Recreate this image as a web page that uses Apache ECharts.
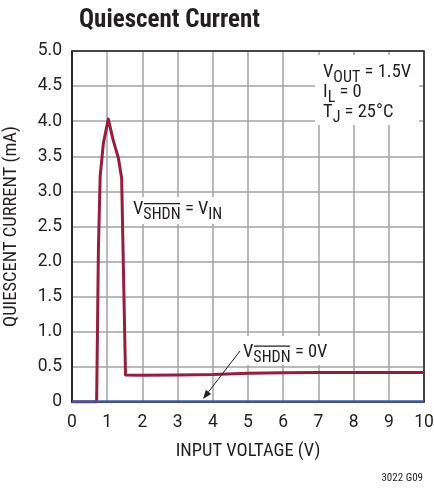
<!DOCTYPE html>
<html><head><meta charset="utf-8">
<script src="https://cdn.jsdelivr.net/npm/echarts@6/dist/echarts.min.js"></script>
<style>html,body{margin:0;padding:0;background:#fff}#c{width:434px;height:489px}</style>
</head><body><div id="c"></div>
<script>
// ---- data ----
const redX = [0, 0.70, 0.75, 0.80, 0.89, 1.03, 1.17, 1.32, 1.41, 1.52, 2, 3, 4, 5, 6, 7, 8, 9, 10];
const redY = [0, 0, 2.17, 3.21, 3.68, 4.03, 3.73, 3.47, 3.19, 0.385, 0.38, 0.385, 0.39, 0.41, 0.415, 0.42, 0.42, 0.42, 0.42];
const blueX = [0, 10];
const blueY = [0.008, 0.008];
const xTicks = [0,1,2,3,4,5,6,7,8,9,10];
const yTicks = [0,0.5,1.0,1.5,2.0,2.5,3.0,3.5,4.0,4.5,5.0];

const FF = '"Roboto Condensed","Liberation Sans Narrow",Roboto,sans-serif';
const FT = 'Roboto,"Liberation Sans",sans-serif';
const RED = '#9c1a3c', BLUE = '#3d5aa6', GRID = '#a3a3a3', INK = '#231f20';

const cv = document.createElement('canvas').getContext('2d');
function tw(s, size){ cv.font = size + 'px ' + FF; return cv.measureText(s).width; }

const MS = 18.5, SS = 16, SUBOFF = 5.5;

// build a label with subscripts: parts = [[text, isSub, overline]]
function label(x, cy, parts){
  const out = [];
  let cx = x;
  parts.forEach(([t, sub, ov]) => {
    const size = sub ? SS : MS;
    const y = cy + 1 + (sub ? SUBOFF : 0);
    out.push({type:'text', z:101, x:cx, y:y, style:{text:t, fontFamily:FF, fontSize:size, fill:INK, verticalAlign:'middle', align:'left'}});
    const w = tw(t, size);
    if (ov) out.push({type:'line', z:101, shape:{x1:cx+0.5, y1:cy-4.8, x2:cx+w-0.5, y2:cy-4.8}, style:{stroke:INK, lineWidth:1.2}});
    cx += w;
  });
  return out;
}

// arrow
const ax1 = 240, ay1 = 351, ax2 = 203, ay2 = 399;
const dx = ax2-ax1, dy = ay2-ay1, L = Math.hypot(dx,dy), ux = dx/L, uy = dy/L;
const ah = 9, aw = 3.3;
const bx = ax2 - ux*ah, by = ay2 - uy*ah;

const chart = echarts.init(document.getElementById('c'), null, {renderer:'canvas'});
chart.setOption({
  animation:false,
  backgroundColor:'#fff',
  title:{text:'Quiescent Current', left:74, top:3,
    textStyle:{fontFamily:FF, fontSize:25, fontWeight:'bold', color:INK}},
  grid:{left:72, right:10, top:51, bottom:87, containLabel:false, outerBoundsMode:'none',
    show:true, borderColor:INK, borderWidth:1.5, z:3},
  xAxis:{type:'value', min:0, max:10, interval:1,
    name:'INPUT VOLTAGE (V)', nameLocation:'middle', nameGap:40,
    nameTextStyle:{fontFamily:FF, fontSize:18.5, color:INK},
    axisLine:{show:true, lineStyle:{color:INK, width:1.5}},
    axisTick:{show:false},
    axisLabel:{fontFamily:FT, fontSize:17.5, color:INK, margin:12},
    splitLine:{show:true, lineStyle:{color:GRID, width:1.5}}},
  yAxis:{type:'value', min:0, max:5, interval:0.5,
    name:'QUIESCENT CURRENT (mA)', nameLocation:'middle', nameGap:51, nameRotate:90,
    nameTextStyle:{fontFamily:FF, fontSize:18.5, color:INK},
    axisLine:{show:true, lineStyle:{color:INK, width:1.5}},
    axisTick:{show:false},
    axisLabel:{fontFamily:FT, fontSize:17.5, color:INK, margin:10,
      formatter:v => v===0 ? '0' : v.toFixed(1)},
    splitLine:{show:true, lineStyle:{color:GRID, width:1.5}}},
  series:[
    {type:'line', data:redX.map((x,i)=>[x,redY[i]]), symbol:'none', z:5,
      lineStyle:{color:RED, width:3, join:'round'}},
    {type:'line', data:blueX.map((x,i)=>[x,blueY[i]]), symbol:'none', z:6,
      lineStyle:{color:BLUE, width:2.5}}
  ],
  graphic:[
    {type:'rect', z:100, shape:{x:315, y:55, width:104, height:70}, style:{fill:'#fff'}},
    ...label(323, 71.5, [['V'],['OUT',true],[' = 1.5V']]),
    ...label(323, 91.5, [['I'],['L',true],[' = 0']]),
    ...label(323, 111.5, [['T'],['J',true],[' = 25°C']]),
    {type:'rect', z:100, shape:{x:129, y:197, width:97, height:27}, style:{fill:'#fff'}},
    ...label(133, 208.5, [['V'],['SHDN',true,true],[' = V'],['IN',true]]),
    {type:'rect', z:100, shape:{x:236, y:336, width:96, height:29}, style:{fill:'#fff'}},
    ...label(243, 351, [['V'],['SHDN',true,true],[' = 0V']]),
    {type:'line', z:101, shape:{x1:ax1, y1:ay1, x2:bx, y2:by}, style:{stroke:INK, lineWidth:1}},
    {type:'polygon', z:101, shape:{points:[[ax2,ay2],[bx-uy*aw, by+ux*aw],[bx+uy*aw, by-ux*aw]]}, style:{fill:INK}},
    {type:'text', z:101, right:11, top:473, style:{text:'3022 G09', fontFamily:FF, fontSize:11, fill:INK}}
  ]
});
</script></body></html>
